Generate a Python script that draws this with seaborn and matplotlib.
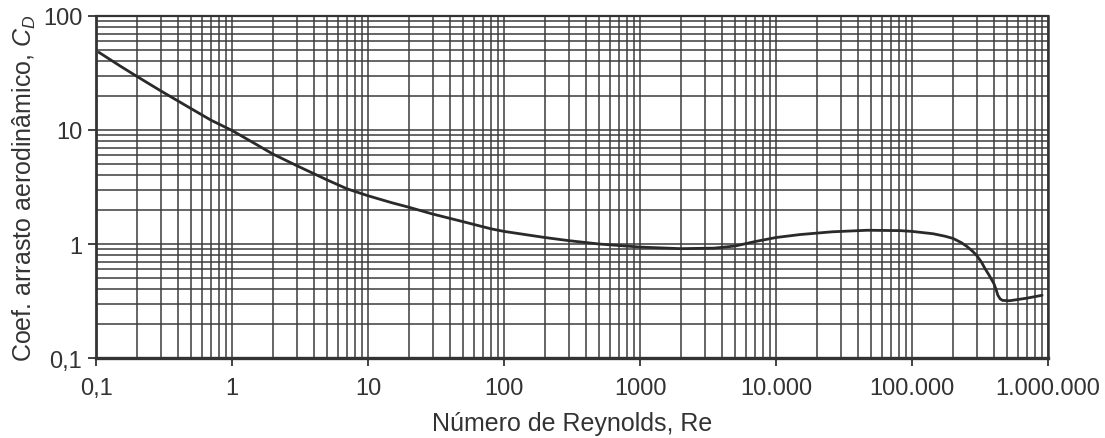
import matplotlib
matplotlib.use("Agg")
import matplotlib.pyplot as plt
import seaborn as sns
import pandas as pd

# ─── Data ─────────────────────────────────────────────────────────────────────

reynolds = [0.105, 0.15, 0.2, 0.3, 0.4, 0.5, 0.7, 1, 1.5, 2, 3, 5, 7, 10, 15,
            20, 30, 50, 80, 100, 200, 300, 500, 1000, 2000, 3500, 5000, 7000,
            10000, 15000, 26000, 47000, 82000, 100000, 143000, 175000, 200000,
            230000, 254000, 280000, 300000, 325000, 344000, 370000, 400000,
            415000, 428000, 445000, 464000, 522000, 700000, 905000]
drag_coef = [48, 36.5, 29.5, 22, 18, 15.4, 12.2, 9.9, 7.5, 6.15, 4.86, 3.65,
             3.05, 2.65, 2.3, 2.1, 1.83, 1.57, 1.36, 1.29, 1.14, 1.07, 1.0,
             0.94, 0.91, 0.92, 0.96, 1.05, 1.14, 1.21, 1.28, 1.32, 1.31, 1.29,
             1.23, 1.17, 1.12, 1.03, 0.95, 0.86, 0.79, 0.69, 0.61, 0.53, 0.45,
             0.40, 0.355, 0.33, 0.32, 0.318, 0.335, 0.355]

x_ticks = [0.1, 1, 10, 100, 1000, 10000, 100000, 1000000]
x_tick_labels = ["0,1", "1", "10", "100", "1000", "10.000", "100.000", "1.000.000"]
y_ticks = [0.1, 1, 10, 100]
y_tick_labels = ["0,1", "1", "10", "100"]

# ─── Style ────────────────────────────────────────────────────────────────────

sns.set_theme(style="ticks")
plt.rcParams["font.family"] = ["Liberation Sans", "DejaVu Sans"]
plt.rcParams["mathtext.fontset"] = "custom"
plt.rcParams["mathtext.it"] = "Liberation Sans:italic"
plt.rcParams["mathtext.rm"] = "Liberation Sans"

ink = "#333333"
df = pd.DataFrame({"Re": reynolds, "CD": drag_coef})

fig = plt.figure(figsize=(11.05, 4.39), dpi=100)
ax = fig.add_axes([0.0869, 0.1822, 0.8615, 0.7791])

sns.lineplot(data=df, x="Re", y="CD", estimator=None, sort=False,
             color="#2a2a2a", linewidth=2.0, ax=ax)

ax.set_xscale("log")
ax.set_yscale("log")
ax.set_xlim(0.1, 1e6)
ax.set_ylim(0.1, 100)

ax.set_xticks(x_ticks)
ax.set_xticklabels(x_tick_labels)
ax.set_yticks(y_ticks)
ax.set_yticklabels(y_tick_labels)

ax.grid(which="both", color="#3c3c3c", linewidth=1.1)
ax.set_axisbelow(True)
ax.tick_params(which="major", length=6, width=1.3, color=ink,
               labelsize=17, labelcolor=ink, pad=4)
ax.tick_params(axis="x", which="major", pad=8)
ax.tick_params(which="minor", length=0)

for side, lw in [("left", 2.0), ("bottom", 2.4), ("top", 1.6), ("right", 1.8)]:
    ax.spines[side].set_visible(True)
    ax.spines[side].set_linewidth(lw)
    ax.spines[side].set_color(ink)

ax.set_xlabel("Número de Reynolds, Re", fontsize=18, color=ink)
ax.set_ylabel("Coef. arrasto aerodinâmico, $C_D$", fontsize=18, color=ink)
ax.xaxis.set_label_coords(0.5, -0.155)
ax.yaxis.set_label_coords(-0.061, 0.5)

fig.savefig("out.png", dpi=100)
